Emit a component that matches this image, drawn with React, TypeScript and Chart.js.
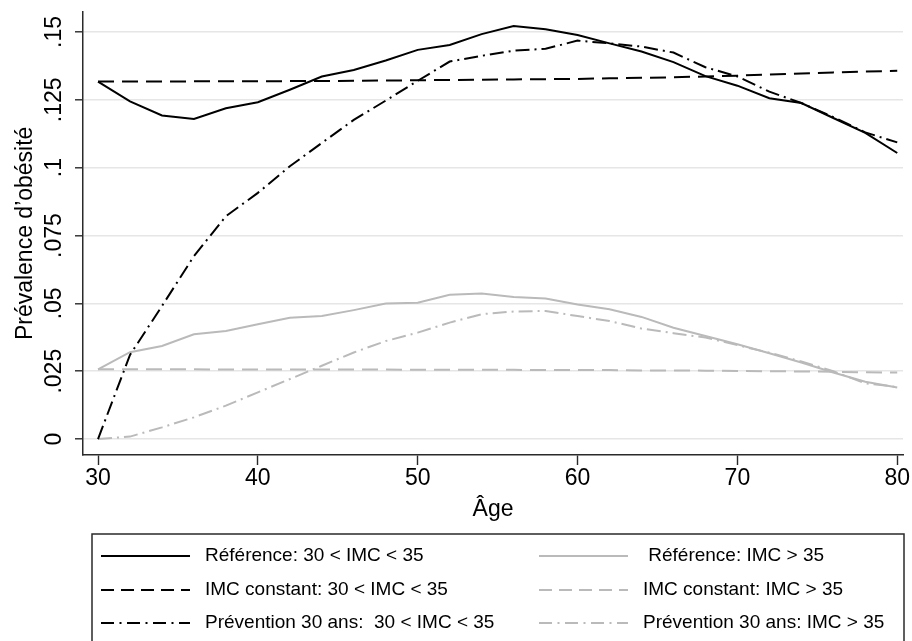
import React, { useEffect, useRef } from 'react';
import { Chart, registerables } from 'chart.js';

Chart.register(...registerables);

// Ages (years), one point every two years
const ages = [30, 32, 34, 36, 38, 40, 42, 44, 46, 48, 50, 52, 54, 56, 58, 60, 62, 64, 66, 68, 70, 72, 74, 76, 78, 80];

// Prévalence, 30 < IMC < 35
const referenceModerate = [0.1317, 0.1244, 0.1192, 0.1179, 0.1219, 0.1241, 0.1287, 0.1336, 0.136, 0.1395, 0.1434, 0.1452, 0.1492, 0.1522, 0.151, 0.1489, 0.1458, 0.1428, 0.1389, 0.1337, 0.1302, 0.1256, 0.1238, 0.1183, 0.1128, 0.1054];
const constantModerate = [0.1317, 0.1317, 0.1317, 0.1318, 0.1318, 0.1318, 0.1319, 0.1319, 0.132, 0.1321, 0.1322, 0.1323, 0.1324, 0.1325, 0.1326, 0.1327, 0.1329, 0.1331, 0.1333, 0.1336, 0.1339, 0.1343, 0.1347, 0.1351, 0.1354, 0.1357];
const preventionModerate = [0, 0.031, 0.049, 0.0674, 0.0821, 0.0907, 0.1005, 0.1091, 0.1176, 0.1247, 0.132, 0.1391, 0.1412, 0.1431, 0.1438, 0.1468, 0.1458, 0.1446, 0.1424, 0.137, 0.1336, 0.128, 0.1238, 0.1186, 0.113, 0.1093];

// Prévalence, IMC > 35
const referenceSevere = [0.0257, 0.032, 0.0343, 0.0386, 0.0398, 0.0423, 0.0447, 0.0453, 0.0475, 0.0499, 0.0502, 0.0532, 0.0536, 0.0523, 0.0518, 0.0496, 0.0478, 0.045, 0.041, 0.038, 0.0349, 0.0316, 0.0282, 0.0245, 0.0211, 0.019];
const constantSevere = [0.0257, 0.0257, 0.0257, 0.0257, 0.0256, 0.0256, 0.0256, 0.0256, 0.0256, 0.0256, 0.0255, 0.0255, 0.0255, 0.0255, 0.0254, 0.0254, 0.0254, 0.0253, 0.0253, 0.0252, 0.0251, 0.025, 0.0249, 0.0248, 0.0246, 0.0245];
const preventionSevere = [0, 0.0009, 0.0043, 0.008, 0.0123, 0.0172, 0.0221, 0.027, 0.0319, 0.0361, 0.0392, 0.0429, 0.046, 0.047, 0.0472, 0.0453, 0.0435, 0.0407, 0.039, 0.0374, 0.0346, 0.0318, 0.0286, 0.025, 0.0205, 0.0192];

// Axis ticks
const xTicks = [30, 40, 50, 60, 70, 80];
const yTicks = [0, 0.025, 0.05, 0.075, 0.1, 0.125, 0.15];
const yTickLabels = ['0', '.025', '.05', '.075', '.1', '.125', '.15'];

// Series names, in dataset order
const seriesNames = [
  'Référence: 30 < IMC < 35',
  'IMC constant: 30 < IMC < 35',
  'Prévention 30 ans:  30 < IMC < 35',
  ' Référence: IMC > 35',
  'IMC constant: IMC > 35',
  'Prévention 30 ans: IMC > 35',
];

const FONT = '"Liberation Sans", Arial, Helvetica, sans-serif';
const BLACK = '#000000';
const GRAY = '#bababa';
const DASH = [16, 8];
const DASH_DOT = [14, 5, 2, 5];
const LEGEND_DASH = [13, 7];
const LEGEND_DASH_DOT = [13, 5.5, 2, 5.5];

const toPoints = (values: number[]) => values.map((v, i) => ({ x: ages[i], y: v }));

// Boxed two-column legend under the plot
const boxLegend = {
  id: 'boxLegend',
  afterDraw(chart: any) {
    const { ctx } = chart;
    const order = [0, 3, 1, 4, 2, 5];
    const left = 92;
    const top = 534;
    const right = 904;
    const rowY = [556, 590, 623];
    const colLine = [[101, 190], [539, 628]];
    const colText = [205, 643];
    ctx.save();
    ctx.strokeStyle = '#2a2a2a';
    ctx.lineWidth = 1.5;
    ctx.setLineDash([]);
    ctx.strokeRect(left, top, right - left, 200);
    ctx.font = `19px ${FONT}`;
    ctx.textBaseline = 'middle';
    ctx.textAlign = 'left';
    order.forEach((dsIndex, k) => {
      const ds = chart.data.datasets[dsIndex];
      const row = Math.floor(k / 2);
      const col = k % 2;
      const y = rowY[row];
      ctx.beginPath();
      ctx.strokeStyle = ds.borderColor;
      ctx.lineWidth = 2;
      ctx.setLineDash(ds.legendDash || []);
      ctx.moveTo(colLine[col][0], y);
      ctx.lineTo(colLine[col][1], y);
      ctx.stroke();
      ctx.setLineDash([]);
      ctx.fillStyle = '#000';
      ctx.fillText(ds.label, colText[col], y);
    });
    ctx.restore();
  },
};

export default function App() {
  const canvasRef = useRef<HTMLCanvasElement | null>(null);

  useEffect(() => {
    const canvas = canvasRef.current;
    if (!canvas) return;

    const makeSet = (i: number, values: number[], color: string, dash: number[], legendDash: number[]) => ({
      label: seriesNames[i],
      data: toPoints(values),
      borderColor: color,
      backgroundColor: color,
      borderWidth: 2,
      borderDash: dash,
      legendDash,
      pointRadius: 0,
      tension: 0,
      fill: false,
    });

    const chart = new Chart(canvas, {
      type: 'line',
      data: {
        datasets: [
          makeSet(0, referenceModerate, BLACK, [], []),
          makeSet(1, constantModerate, BLACK, DASH, LEGEND_DASH),
          makeSet(2, preventionModerate, BLACK, DASH_DOT, LEGEND_DASH_DOT),
          makeSet(3, referenceSevere, GRAY, [], []),
          makeSet(4, constantSevere, GRAY, DASH, LEGEND_DASH),
          makeSet(5, preventionSevere, GRAY, DASH_DOT, LEGEND_DASH_DOT),
        ] as any,
      },
      options: {
        responsive: false,
        animation: false,
        devicePixelRatio: 1,
        layout: { padding: { left: 0, right: 9, top: 11.7, bottom: 118 } },
        plugins: {
          legend: { display: false },
          tooltip: { enabled: false },
        },
        scales: {
          x: {
            type: 'linear',
            min: 29.06,
            max: 80.36,
            afterBuildTicks: (scale: any) => {
              scale.ticks = xTicks.map((v) => ({ value: v }));
            },
            afterFit: (scale: any) => {
              scale.height = 68;
            },
            grid: {
              drawOnChartArea: false,
              drawTicks: true,
              tickLength: 10,
              tickColor: '#2a2a2a',
              tickWidth: 1.4,
            },
            border: { display: true, color: '#2a2a2a', width: 1.5 },
            ticks: {
              color: '#000',
              padding: 0,
              maxRotation: 0,
              minRotation: 0,
              font: { family: FONT, size: 23 },
              callback: (v: any) => String(v),
            },
            title: {
              display: true,
              text: 'Âge',
              color: '#000',
              padding: { top: 0, bottom: 0 },
              font: { family: FONT, size: 23 },
            },
          },
          y: {
            type: 'linear',
            min: -0.00588,
            max: 0.15746,
            afterBuildTicks: (scale: any) => {
              scale.ticks = yTicks.map((v) => ({ value: v }));
            },
            afterFit: (scale: any) => {
              scale.width = 83;
            },
            grid: {
              color: '#e6e6e6',
              lineWidth: 1.6,
              drawTicks: true,
              tickLength: 8,
              tickColor: '#2a2a2a',
              tickWidth: 1.4,
            },
            border: { display: true, color: '#2a2a2a', width: 1.5 },
            ticks: {
              color: '#000',
              minRotation: 90,
              maxRotation: 90,
              crossAlign: 'center',
              padding: -2.4,
              font: { family: FONT, size: 23 },
              callback: (v: any) => {
                const idx = yTicks.findIndex((t) => Math.abs(t - Number(v)) < 1e-9);
                return idx >= 0 ? yTickLabels[idx] : '';
              },
            },
            title: {
              display: true,
              text: 'Prévalence d’obésité',
              color: '#000',
              padding: { top: 11.5, bottom: 0 },
              font: { family: FONT, size: 23 },
            },
          },
        },
      } as any,
      plugins: [boxLegend],
    });

    return () => chart.destroy();
  }, []);

  return (
    <div style={{ position: 'absolute', left: 0, top: 0, width: 912, height: 641, background: '#fff' }}>
      <canvas ref={canvasRef} width={912} height={641} style={{ display: 'block', width: 912, height: 641 }} />
    </div>
  );
}
